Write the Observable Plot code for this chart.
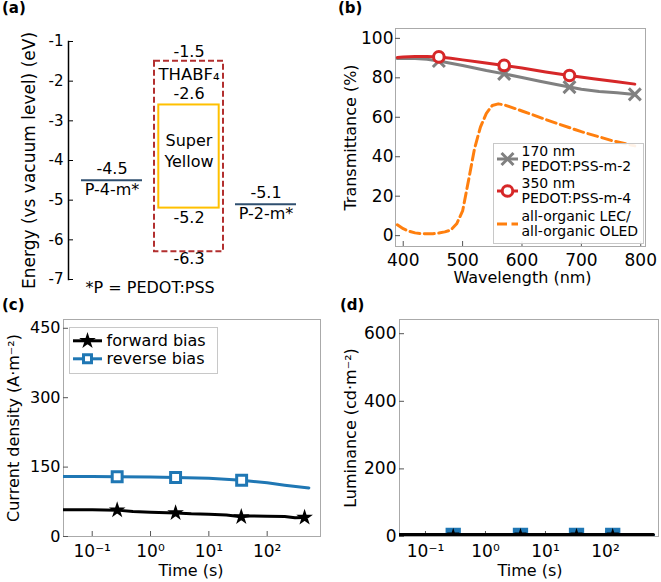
<!DOCTYPE html>
<html><head><meta charset="utf-8">
<script src="https://cdn.jsdelivr.net/npm/d3@7"></script>
<script src="https://cdn.jsdelivr.net/npm/@observablehq/plot@0.6"></script>
<style>
body{margin:0;background:#fff;font-family:"DejaVu Sans",sans-serif;color:#000;}
#root{position:relative;width:661px;height:582px;overflow:hidden;background:#fff;}
.panel{position:absolute;}
.tag{position:absolute;font-weight:bold;font-size:15px;line-height:15px;}
.legend{position:absolute;border:1px solid #c8c8c8;background:rgba(255,255,255,0.9);box-sizing:border-box;}
.ltext{position:absolute;white-space:nowrap;}
</style></head><body><div id="root"></div>
<script>
// ---------- (a) energy levels ----------
const bandNames = ["P-4-m*", "THABF₄", "P-2-m*"];
const pedotNames = ["P-4-m*", "P-2-m*"];
const pedotWorkFn = [-4.5, -5.1];
const thabfLevels = [-1.5, -6.3];
const syLevels = [-2.6, -5.2];
const yTicksA = [-1, -2, -3, -4, -5, -6, -7];

// ---------- (b) transmittance ----------
const wl170 = [390,400,420,440,460,480,500,520,540,570,600,630,660,680,700,730,760,790];
const t170  = [89.8,89.8,89.8,89.4,88.5,87.4,86.2,85,83.7,82,80.2,78.3,76.5,75.3,74.2,73.1,72.4,71.6];
const mk170 = [460,570,680,790];
const wl350 = [390,400,420,440,460,480,500,530,570,600,640,680,720,760,790];
const t350  = [90.3,90.5,90.8,90.8,90.6,89.9,89.1,87.9,86.3,85,83,81.2,79.5,78,76.8];
const mk350 = [460,570,680];
const wlOrg = [390,400,410,420,430,440,450,460,470,480,490,500,510,520,530,540,550,560,570,580,600,650,700,750,790];
const tOrg  = [5.5,3.5,2.2,1.4,1.0,0.9,1.0,1.3,1.9,2.8,6,12.5,28,44,55,62,66,66.8,66.3,65.3,63.2,57.8,52.7,48.3,45.5];
const xTicksB = [400,500,600,700,800];
const yTicksB = [0,20,40,60,80,100];

// ---------- (c) current density ----------
const tFwdC = [0.03,0.1,0.268,0.5,1,2.69,5,10,20,36,50,100,200,300,438];
const jFwd  = [58,58,57,54,52.5,51,49,48,46.5,42.5,44.5,44,43,40.5,41];
const mkFwdC = [0.268,2.69,36,438];
const tRevC = [0.03,0.1,0.268,1,2.69,10,36.5,100,200,519];
const jRev  = [129.5,129.5,129,128.5,127.5,126,121.5,116,111,105];
const mkRevC = [0.268,2.69,36.5];
const yTicksC = [0,150,300,450];

// ---------- (d) luminance ----------
const tD = [0.03,0.1,0.29,1,3.83,10,32.9,132,630];
const lumFwd = [6,6,6,6,6,6,6,6,6];
const lumRev = [3,3,3,3,3,3,3,3,3];
const mkD = [0.29,3.83,32.9,132];
const yTicksD = [0,200,400,600];
const logTicks = [0.1,1,10,100];

const sup = {"-1":"⁻¹","0":"⁰","1":"¹","2":"²"};
const logFmt = d => "10" + sup[String(Math.round(Math.log10(d)))];
const font = "DejaVu Sans";
const zip = (xs, ys) => xs.map((x, i) => ({x, y: ys[i]}));

const root = document.getElementById("root");
function place(node, left, top) {
  node.classList.add("panel");
  node.style.left = left + "px";
  node.style.top = top + "px";
  root.appendChild(node);
}
const yLabel = (s, dx, size) => Plot.text([s], {frameAnchor: "left", rotate: -90, textAnchor: "middle", lineAnchor: "middle", dx, fontSize: size});
const xLabel = (s, dy, dx, size) => Plot.text([s], {frameAnchor: "bottom", textAnchor: "middle", lineAnchor: "middle", dy, dx, fontSize: size});

// ----- panel (a)
const pedot = pedotNames.map((n, i) => ({n, e: pedotWorkFn[i]}));
const mid = bandNames[1];
const pa = Plot.plot({
  width: 330, height: 300, marginLeft: 68, marginRight: 26, marginTop: 41, marginBottom: 21,
  style: {fontFamily: font, fontSize: "16px", background: "transparent", overflow: "visible", color: "#000"},
  x: {type: "band", domain: bandNames, range: [72.15, 304.15], padding: 0, axis: null},
  y: {domain: [-7, -1]},
  marks: [
    Plot.frame({anchor: "left", stroke: "#000", strokeWidth: 1.5}),
    Plot.axisY({ticks: yTicksA, tickSize: -5, tickPadding: 10, tickFormat: d => String(d), label: null, fontSize: 15, stroke: "#000"}),
    Plot.barY([thabfLevels], {x: () => mid, y1: d => d[0], y2: d => d[1], fill: "none", stroke: "#b22f2f", strokeWidth: 2, strokeDasharray: "6,3", insetLeft: 4, insetRight: 4}),
    Plot.barY([syLevels], {x: () => mid, y1: d => d[0], y2: d => d[1], fill: "none", stroke: "#ffc000", strokeWidth: 2, insetLeft: 8.3, insetRight: 8.3}),
    Plot.tickY(pedot, {x: "n", y: "e", stroke: "#2f4f6f", strokeWidth: 2, insetLeft: 8, insetRight: 8}),
    Plot.text(pedot, {x: "n", y: "e", text: d => String(d.e), dy: -11}),
    Plot.text(pedot, {x: "n", y: "e", text: "n", dy: 10}),
    Plot.text([thabfLevels[0]], {x: () => mid, y: d => d, text: d => String(d), dy: -9}),
    Plot.text([thabfLevels[0]], {x: () => mid, y: d => d, text: () => mid, dy: 13.5, fontSize: 16.5}),
    Plot.text([thabfLevels[1]], {x: () => mid, y: d => d, text: d => String(d), dy: 7}),
    Plot.text([syLevels[0]], {x: () => mid, y: d => d, text: d => String(d), dy: -11.5}),
    Plot.text([syLevels[1]], {x: () => mid, y: d => d, text: d => String(d), dy: 10}),
    Plot.text([(syLevels[0] + syLevels[1]) / 2], {x: () => mid, y: d => d, text: () => "Super\nYellow", dy: -7, lineHeight: 1.36}),
    Plot.text(["*P = PEDOT:PSS"], {frameAnchor: "bottom-left", textAnchor: "start", lineAnchor: "middle", dx: 17, dy: 8}),
    yLabel("Energy (vs vacuum level) (eV)", -39, 17)
  ]
});
place(pa, 0, 0);

// ----- panel (b)
const r170 = zip(wl170, t170), r350 = zip(wl350, t350), rOrg = zip(wlOrg, tOrg);
const pb = Plot.plot({
  width: 331, height: 300, marginLeft: 65, marginRight: 16, marginTop: 28, marginBottom: 54,
  style: {fontFamily: font, fontSize: "16px", background: "transparent", overflow: "visible", color: "#000"},
  x: {domain: [387, 808]},
  y: {domain: [-5.5, 105]},
  marks: [
    Plot.frame({stroke: "#aaa"}),
    Plot.axisY({ticks: yTicksB, tickSize: -5, tickPadding: 7, label: null, fontSize: 17, stroke: "#555"}),
    Plot.axisX({ticks: xTicksB, tickSize: -5, tickPadding: 12, label: null, fontSize: 17, stroke: "#555"}),
    Plot.line(r170, {x: "x", y: "y", stroke: "#808080", strokeWidth: 3}),
    Plot.dot(r170.filter(d => mk170.includes(d.x)), {x: "x", y: "y", symbol: "times", r: 5.5, stroke: "#808080", strokeWidth: 3}),
    Plot.line(r350, {x: "x", y: "y", stroke: "#d62728", strokeWidth: 3}),
    Plot.dot(r350.filter(d => mk350.includes(d.x)), {x: "x", y: "y", symbol: "circle", r: 5.3, fill: "#fff", stroke: "#d62728", strokeWidth: 3}),
    Plot.line(rOrg, {x: "x", y: "y", stroke: "#ff7f0e", strokeWidth: 3, strokeDasharray: "10,4.5"}),
    yLabel("Transmittance (%)", -45, 16),
    xLabel("Wavelength (nm)", 31, 2, 16)
  ]
});
place(pb, 330, 0);

// ----- panel (c)
const rFwdC = zip(tFwdC, jFwd), rRevC = zip(tRevC, jRev);
const pc = Plot.plot({
  width: 330, height: 282, marginLeft: 63, marginRight: 10, marginTop: 19, marginBottom: 46,
  style: {fontFamily: font, fontSize: "16px", background: "transparent", overflow: "visible", color: "#000"},
  x: {type: "log", domain: [0.0322, 821]},
  y: {domain: [0, 469]},
  marks: [
    Plot.frame({stroke: "#aaa"}),
    Plot.axisY({ticks: yTicksC, tickSize: -5, tickPadding: 8, label: null, fontSize: 16, stroke: "#555"}),
    Plot.axisX({ticks: logTicks, tickFormat: logFmt, tickSize: -5, tickPadding: 13, label: null, fontSize: 17, stroke: "#555"}),
    Plot.line(rRevC, {x: "x", y: "y", stroke: "#1f77b4", strokeWidth: 3, clip: true}),
    Plot.dot(rRevC.filter(d => mkRevC.includes(d.x)), {x: "x", y: "y", symbol: "square", r: 5.6, fill: "#fff", stroke: "#1f77b4", strokeWidth: 3}),
    Plot.line(rFwdC, {x: "x", y: "y", stroke: "#000", strokeWidth: 3, clip: true}),
    Plot.dot(rFwdC.filter(d => mkFwdC.includes(d.x)), {x: "x", y: "y", symbol: "star", r: 3.3, fill: "#000", stroke: "#000", strokeWidth: 2}),
    yLabel("Current density (A·m⁻²)", -50, 16),
    xLabel("Time (s)", 34, -1, 16)
  ]
});
place(pc, 0, 300);

// ----- panel (d)
const rFwdD = zip(tD, lumFwd), rRevD = zip(tD, lumRev);
const pd = Plot.plot({
  width: 331, height: 282, marginLeft: 69, marginRight: 3, marginTop: 19, marginBottom: 46,
  style: {fontFamily: font, fontSize: "16px", background: "transparent", overflow: "visible", color: "#000"},
  x: {type: "log", domain: [0.0369, 765]},
  y: {domain: [0, 642]},
  marks: [
    Plot.frame({stroke: "#aaa"}),
    Plot.axisY({ticks: yTicksD, tickSize: -5, tickPadding: 8, label: null, fontSize: 17, stroke: "#555"}),
    Plot.axisX({ticks: logTicks, tickFormat: logFmt, tickSize: -5, tickPadding: 13, label: null, fontSize: 17, stroke: "#555"}),
    Plot.line(rRevD, {x: "x", y: "y", stroke: "#1f77b4", strokeWidth: 3, clip: true}),
    Plot.dot(rRevD.filter(d => mkD.includes(d.x)), {x: "x", y: "y", symbol: "square", r: 7.5, fill: "#1f77b4", stroke: "#1f77b4", strokeWidth: 2, clip: true}),
    Plot.line(rFwdD, {x: "x", y: "y", stroke: "#000", strokeWidth: 3, clip: true}),
    Plot.dot(rFwdD.filter(d => mkD.includes(d.x)), {x: "x", y: "y", symbol: "star", r: 2.6, fill: "#000", stroke: "#000", strokeWidth: 1.5, clip: true}),
    yLabel("Luminance (cd·m⁻²)", -49, 16),
    xLabel("Time (s)", 34, 1, 16)
  ]
});
place(pd, 330, 300);

// ----- legends
function legend({left, top, width, height, fontSize, lineHeight, swX1, swX2, textLeft, items}) {
  const box = document.createElement("div");
  box.className = "legend";
  Object.assign(box.style, {left: left + "px", top: top + "px", width: width + "px", height: height + "px"});
  items.forEach(it => {
    const h = it.lines.length * lineHeight;
    const svg = d3.create("svg").attr("width", swX2 + 8).attr("height", h)
      .style("position", "absolute").style("left", "0px").style("top", it.top + "px").style("overflow", "visible");
    svg.append("line").attr("x1", swX1).attr("x2", swX2).attr("y1", h / 2).attr("y2", h / 2)
      .attr("stroke", it.color).attr("stroke-width", 3).attr("stroke-dasharray", it.dash || null);
    if (it.symbol) {
      svg.append("path").attr("transform", `translate(${(swX1 + swX2) / 2},${h / 2})`)
        .attr("d", d3.symbol(it.symbol, Math.PI * it.r * it.r)())
        .attr("fill", it.fill).attr("stroke", it.stroke).attr("stroke-width", it.sw);
    }
    box.appendChild(svg.node());
    const t = document.createElement("div");
    t.className = "ltext";
    Object.assign(t.style, {left: textLeft + "px", top: it.top + "px", fontSize: fontSize + "px", lineHeight: lineHeight + "px"});
    t.innerHTML = it.lines.join("<br>");
    box.appendChild(t);
  });
  root.appendChild(box);
}
legend({left: 493, top: 143, width: 151, height: 101, fontSize: 14, lineHeight: 15, swX1: 3, swX2: 24, textLeft: 27.5, items: [
  {top: 0.3, lines: ["170 nm", "PEDOT:PSS-m-2"], color: "#808080", symbol: d3.symbolTimes, r: 5.5, fill: "none", stroke: "#808080", sw: 3},
  {top: 32, lines: ["350 nm", "PEDOT:PSS-m-4"], color: "#d62728", symbol: d3.symbolCircle, r: 5.3, fill: "#fff", stroke: "#d62728", sw: 3},
  {top: 65, lines: ["all-organic LEC/", "all-organic OLED"], color: "#ff7f0e", dash: "10,4.5"}
]});
legend({left: 69, top: 327, width: 149, height: 47, fontSize: 16, lineHeight: 17.6, swX1: 3, swX2: 32, textLeft: 36.5, items: [
  {top: 3.9, lines: ["forward bias"], color: "#000", symbol: d3.symbolStar, r: 3.3, fill: "#000", stroke: "#000", sw: 2},
  {top: 21.5, lines: ["reverse bias"], color: "#1f77b4", symbol: d3.symbolSquare, r: 4.5, fill: "#fff", stroke: "#1f77b4", sw: 3}
]});

// ----- panel tags
[["(a)", 2, 1], ["(b)", 338, 1], ["(c)", 2, 298], ["(d)", 340, 298]].forEach(([s, x, y]) => {
  const d = document.createElement("div");
  d.className = "tag";
  d.textContent = s;
  d.style.left = x + "px";
  d.style.top = y + "px";
  root.appendChild(d);
});
</script></body></html>
